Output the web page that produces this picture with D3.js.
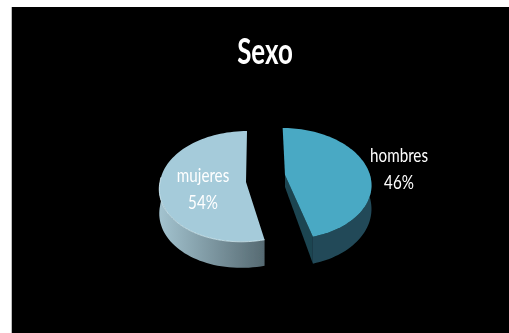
<!DOCTYPE html>
<html><head><meta charset="utf-8">
<script src="https://cdn.jsdelivr.net/npm/d3@7/dist/d3.min.js"></script>
<style>html,body{margin:0;padding:0;background:#fff}svg{display:block}</style>
</head><body><svg id="c" width="509" height="333"></svg>
<script>
const title = "Sexo";
const categories = ["hombres", "mujeres"];
const values = [46, 54];
const W = 509, H = 333;
const svg = d3.select("#c");
const defs = svg.append("defs");
const wg = defs.append("linearGradient").attr("id","wallM").attr("x1","0").attr("x2","1").attr("y1","0").attr("y2","0");
wg.append("stop").attr("offset","0").attr("stop-color","#a3c3cf");
wg.append("stop").attr("offset","1").attr("stop-color","#566a72");
defs.append("filter").attr("id","soft").append("feGaussianBlur").attr("stdDeviation",0.45);

svg.append("rect").attr("x",11).attr("y",7).attr("width",W-11).attr("height",H-7).attr("fill","#000");
svg.append("rect").attr("x",11).attr("y",7).attr("width",1).attr("height",H-7).attr("fill","#bdbdbd");

const slices = d3.pie().sort(null).value(d=>d)(values);
// Projection of each exploded slice from the pie plane to the screen
const views = [
  {cx:285, cy:175, rx:85, ry:54.2, k:.153, up:.05, down:.05, depth:23, apexDepth:12, top:"#49a9c4", wall:"#214a58", cut:"#1d4551"},
  {cx:246, cy:182, rx:86, ry:55,   k:.08,  up:-.02, down:-.08, depth:24, apexDepth:12, top:"#a5cbda", wall:"url(#wallM)", cut:"#3f5a64"}
];
const proj = (v,a,r=1) => {
  const w = 1 + v.k*Math.cos(a)*r;
  const y = -v.ry*Math.cos(a)*r/w;
  const sh = (y<0 ? v.up : v.down)*y;
  return [v.cx + v.rx*Math.sin(a)*r/w + sh, v.cy + y];
};
const dep = (v,a) => v.depth/(1 + v.k*Math.cos(a));
const line = d3.line();
const g = svg.append("g").attr("filter","url(#soft)");

slices.forEach((s,i)=>{
  const v = views[i];
  const N = 80;
  const angs = d3.range(N+1).map(j=>s.startAngle+(s.endAngle-s.startAngle)*j/N);
  const rim = angs.map(a=>proj(v,a));
  const vis = angs.filter(a=>Math.cos(a) < .12);
  const wt = vis.map(a=>proj(v,a));
  const wb = vis.map(a=>{const p=proj(v,a);return [p[0],p[1]+dep(v,a)];}).reverse();
  g.append("path").attr("d",line(wt.concat(wb))+"Z").attr("fill",v.wall);
  if(i===0){
    const c = proj(v,s.endAngle);
    g.append("path").attr("d",line([[v.cx,v.cy],c,[c[0],c[1]+dep(v,s.endAngle)],[v.cx,v.cy+v.apexDepth]])+"Z").attr("fill",v.cut);
  }
  g.append("path").attr("d",line([[v.cx,v.cy]].concat(rim))+"Z").attr("fill",v.top);
  if(i===1){
    g.append("path").attr("d",line(wt)).attr("fill","none").attr("stroke","#d4eef5").attr("stroke-width",0.8);
  }
});

const txt = (x,y,t,size,weight,sx)=>svg.append("text")
  .attr("transform",`translate(${x},${y}) scale(${sx},1)`)
  .attr("text-anchor","middle").attr("fill","#fff").attr("filter","url(#soft)")
  .attr("font-family","Lato, 'Open Sans', sans-serif").attr("font-size",size).attr("font-weight",weight).text(t);
txt(265,64,title,37,700,.7);
const labelPos = [[399,162],[203,182]];
slices.forEach((s,i)=>{
  txt(labelPos[i][0],labelPos[i][1],categories[i],20,400,.76);
  txt(labelPos[i][0],labelPos[i][1]+27,s.data+"%",20,400,.76);
});
</script></body></html>
